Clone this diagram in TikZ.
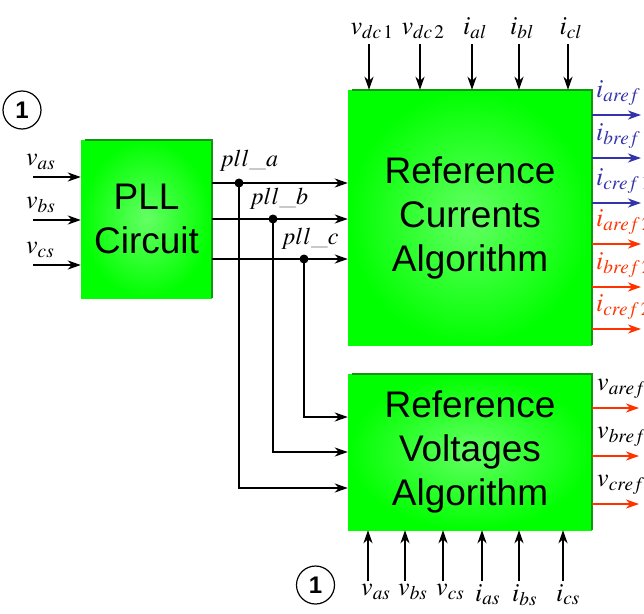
\documentclass[tikz,border=0pt]{standalone}
\usepackage{amsmath}
\usepackage{mathptmx}
\usepackage{fontspec}
\setsansfont{Liberation Sans}
\usetikzlibrary{arrows.meta,positioning}
\definecolor{refblue}{RGB}{51,51,170}
\definecolor{refred}{RGB}{255,51,0}
\definecolor{boxgreen}{RGB}{0,255,0}
\definecolor{boxlight}{RGB}{100,255,100}
\definecolor{boxedge}{RGB}{20,150,20}
\begin{document}
\begin{tikzpicture}[x=1pt,y=-1pt,
  blk/.style={inner sep=0pt, align=center, shading=radial, inner color=boxlight, outer color=boxgreen,
    font=\sffamily\fontsize{37}{44}\selectfont},
  arr/.style={line width=2.5pt, -{Stealth[length=13pt,width=9pt,inset=4pt]}},
  lbl/.style={inner sep=0pt, font=\fontsize{26}{30}\selectfont},
  num/.style={circle, draw, line width=1.2pt, minimum size=38pt, inner sep=0pt,
    font=\sffamily\bfseries\fontsize{24}{24}\selectfont}]
\useasboundingbox (0,0) rectangle (644,613);

\node[blk, minimum width=131pt, minimum height=158pt] (pll) at (146.5,219) {PLL\\Circuit};
\node[blk, minimum width=244pt, minimum height=255pt] (rca) at (470,217.5) {Reference\\Currents\\Algorithm};
\node[blk, minimum width=244pt, minimum height=156pt] (rva) at (470,452) {Reference\\Voltages\\Algorithm};
\foreach \b in {pll,rca,rva}
  \draw[boxedge, line width=1.5pt] ([xshift=4pt]\b.north west) -- (\b.north east) -- (\b.south east);

\node[num] (one) at (22,110) {1};
\node[num] (two) at (315.5,585) {1};

\foreach \y/\lab [count=\i] in {177/v_{as},220/v_{bs},265/v_{cs}} {
  \coordinate (in\i) at (33,\y);
  \draw[arr] (in\i) -- (pll.west |- in\i);
  \node[lbl, anchor=south west] (inlab\i) at (26,\y-7) {$\lab$};
}

\coordinate (pa) at (239,183);
\coordinate (pb) at (273,219);
\coordinate (pc) at (304,259);
\draw[arr] (pll.east |- pa) -- (rca.west |- pa);
\draw[arr] (pll.east |- pb) -- (rca.west |- pb);
\draw[arr] (pll.east |- pc) -- (rca.west |- pc);
\node[lbl, font=\fontsize{24}{28}\selectfont, anchor=south] (la) at (249,172) {$pll\_a$};
\node[lbl, font=\fontsize{24}{28}\selectfont, anchor=south] (lb) at (279,210) {$pll\_b$};
\node[lbl, font=\fontsize{24}{28}\selectfont, anchor=south] (lc) at (310,250) {$pll\_c$};
\draw[arr, line width=2pt] (pa) |- ([yshift=-36pt]rva.west);
\draw[arr, line width=2pt] (pb) |- (rva.west);
\draw[arr, line width=2pt] (pc) |- ([yshift=35pt]rva.west);
\fill (pa) circle (4.5);
\fill (pb) circle (4.5);
\fill (pc) circle (4.5);

\foreach \x/\lab [count=\i] in {369/v_{dc\,1},420/v_{dc\,2},472/i_{al},519/i_{bl},568/i_{cl}} {
  \coordinate (top\i) at (\x,44);
  \draw[arr] (top\i) -- (top\i |- rca.north);
  \node[lbl, above=5pt of top\i, xshift=3pt] (toplab\i) {$\lab$};
}

\foreach \x/\lab [count=\i] in {368/v_{as},405/v_{bs},443/v_{cs},482/i_{as},519/i_{bs},563/i_{cs}} {
  \coordinate (bot\i) at (\x,581);
  \draw[arr] (bot\i) -- (bot\i |- rva.south);
  \node[lbl, anchor=north west] (botlab\i) at (\x-7,584) {$\lab$};
}

\foreach \y/\lab/\c [count=\i] in {115/i_{aref\,1}/refblue,158/i_{bref\,1}/refblue,203/i_{cref\,1}/refblue,
                                   244/i_{aref\,2}/refred,287/i_{bref\,2}/refred,329/i_{cref\,2}/refred} {
  \coordinate (out\i) at (641,\y);
  \draw[arr, \c] (rca.east |- out\i) -- (out\i);
  \node[lbl, \c, anchor=south west] (outlab\i) at (596,\y-9) {$\lab$};
}

\foreach \y/\lab [count=\i] in {408/v_{aref},456/v_{bref},504/v_{cref}} {
  \coordinate (vout\i) at (639,\y);
  \draw[arr, refred] (rva.east |- vout\i) -- (vout\i);
  \node[lbl, anchor=south west] (voutlab\i) at (597,\y-9) {$\lab$};
}
\end{tikzpicture}
\end{document}
